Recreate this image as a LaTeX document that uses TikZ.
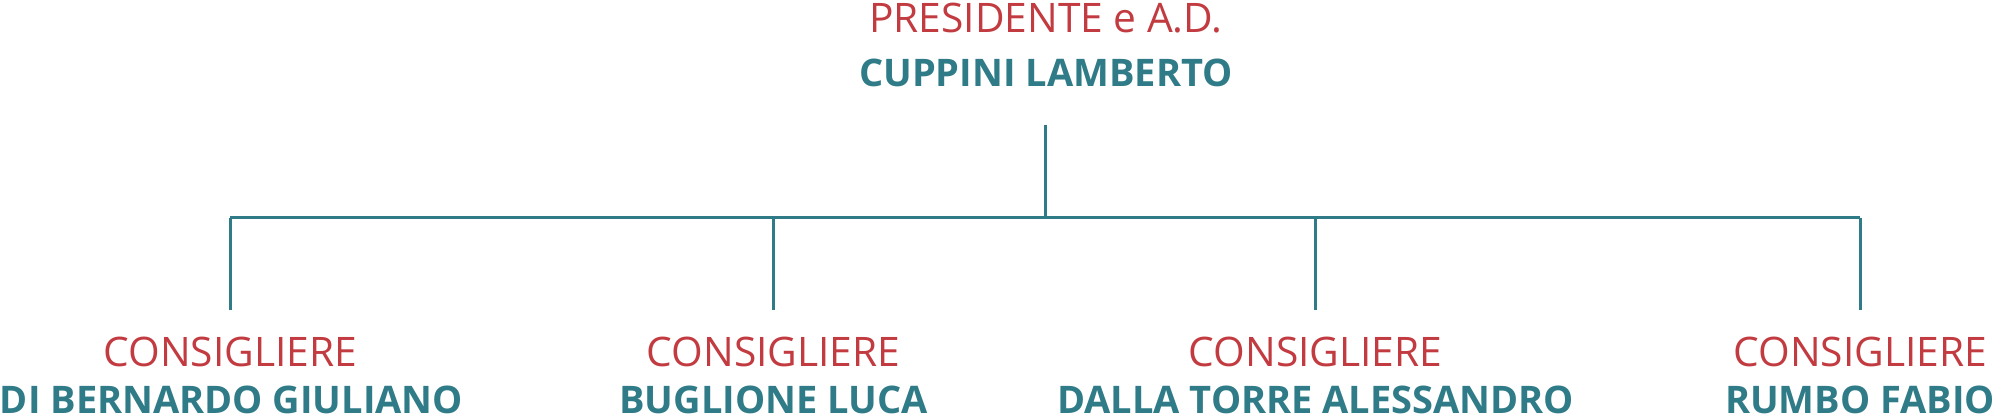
\documentclass[tikz,border=0pt]{standalone}
\usepackage{fontspec}
\setmainfont{Open Sans}
\definecolor{rd}{HTML}{C23B40}
\definecolor{tl}{HTML}{2F7B87}
\begin{document}
\begin{tikzpicture}[x=0.02cm,y=-0.02cm,
 role/.style={text=rd,font=\fontsize{18.2}{18}\selectfont,inner sep=0},
 nm/.style={text=tl,font=\fontsize{17}{17}\selectfont\bfseries,inner sep=0},
 ln/.style={draw=tl,line width=1.3pt}]
\useasboundingbox (0,0) rectangle (1568,326);
\node[role] (pt) at (822,14) {PRESIDENTE e A.D.};
\node[nm] (pn) at (822,57) {CUPPINI LAMBERTO};
\coordinate (top) at (822,98);
\coordinate (mid) at (822,171);
\foreach \i/\x in {1/181,2/608,3/1034,4/1462}{
 \coordinate (j\i) at (\x,171);
 \coordinate (b\i) at (\x,244);
 \draw[ln] (j\i) -- (b\i);
}
\node[role] (c1) at (181,277) {CONSIGLIERE};
\node[nm] (n1) at (182,314) {DI BERNARDO GIULIANO};
\node[role] (c2) at (608,277) {CONSIGLIERE};
\node[nm] (n2) at (608,314) {BUGLIONE LUCA};
\node[role] (c3) at (1034,277) {CONSIGLIERE};
\node[nm] (n3) at (1034,314) {DALLA TORRE ALESSANDRO};
\node[role] (c4) at (1462,277) {CONSIGLIERE};
\node[nm] (n4) at (1462,314) {RUMBO FABIO};
\draw[ln] (top) -- (mid);
\draw[ln] (j1) -- (j4);
\end{tikzpicture}
\end{document}
